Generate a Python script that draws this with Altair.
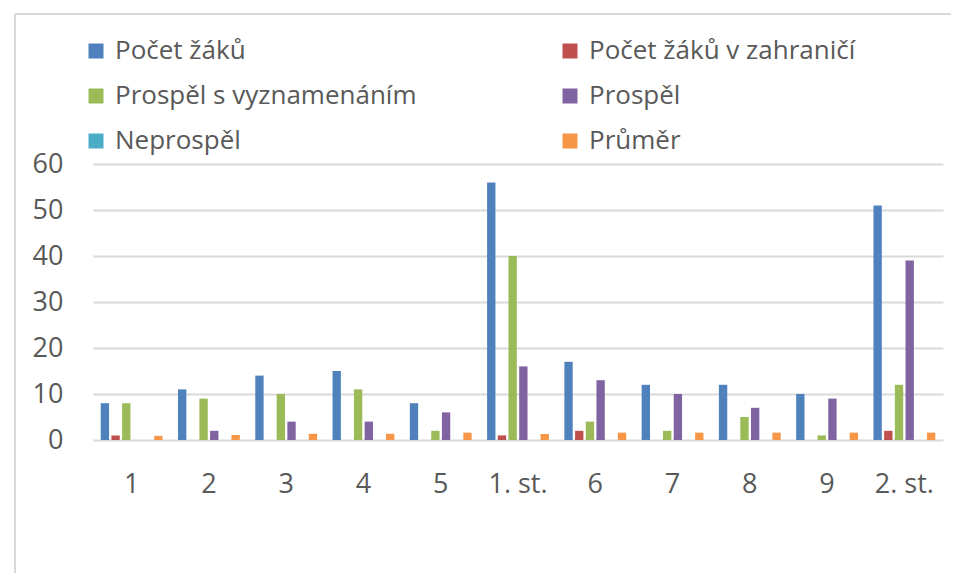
import altair as alt
import pandas as pd

categories = ["1", "2", "3", "4", "5", "1. st.", "6", "7", "8", "9", "2. st."]
series = ["Počet žáků", "Počet žáků v zahraničí", "Prospěl s vyznamenáním",
          "Prospěl", "Neprospěl", "Průměr"]
colors = ["#4f81bd", "#c0504d", "#9bbb59", "#8064a2", "#4bacc6", "#f79646"]

pocet_zaku = [8, 11, 14, 15, 8, 56, 17, 12, 12, 10, 51]
pocet_zahranici = [1, 0, 0, 0, 0, 1, 2, 0, 0, 0, 2]
prospel_vyznam = [8, 9, 10, 11, 2, 40, 4, 2, 5, 1, 12]
prospel = [0, 2, 4, 4, 6, 16, 13, 10, 7, 9, 39]
neprospel = [0, 0, 0, 0, 0, 0, 0, 0, 0, 0, 0]
prumer = [0.9, 1.1, 1.35, 1.35, 1.6, 1.3, 1.6, 1.6, 1.6, 1.6, 1.6]

values = [pocet_zaku, pocet_zahranici, prospel_vyznam, prospel, neprospel, prumer]
rows = []
for s, vals in zip(series, values):
    for c, v in zip(categories, vals):
        rows.append({"cat": c, "series": s, "value": v})
df = pd.DataFrame(rows)

FONT = "Open Sans"
TXT = "#595959"

bars = alt.Chart(df).mark_bar().encode(
    x=alt.X("cat:N", sort=categories, title=None,
            scale=alt.Scale(paddingInner=0.2, paddingOuter=0.1),
            axis=alt.Axis(labelAngle=0, domain=False, ticks=True, tickSize=22,
                          tickOpacity=0, grid=False,
                          labelFontSize=27, labelColor=TXT, labelFont=FONT,
                          labelPadding=9)),
    xOffset=alt.XOffset("series:N", sort=series,
                        scale=alt.Scale(paddingInner=0.22, paddingOuter=0)),
    y=alt.Y("value:Q", title=None,
            scale=alt.Scale(domain=[0, 60], nice=False),
            axis=alt.Axis(values=[0, 10, 20, 30, 40, 50, 60], domain=False,
                          ticks=True, tickSize=22, tickOpacity=0,
                          gridColor="#d9d9d9", gridWidth=2,
                          labelFontSize=27, labelColor=TXT, labelFont=FONT,
                          labelPadding=8)),
    color=alt.Color("series:N", sort=series,
                    scale=alt.Scale(domain=series, range=colors),
                    legend=alt.Legend(title=None, orient="none", legendX=-10, legendY=-126,
                                      direction="horizontal",
                                      columns=2, columnPadding=140, rowPadding=19,
                                      symbolType="square", symbolSize=225,
                                      symbolStrokeWidth=0, symbolOffset=0,
                                      labelFontSize=26, labelColor=TXT, labelFont=FONT,
                                      labelLimit=400, labelOffset=6)),
)

frame_v = alt.Chart(alt.Data(values=[{}])).mark_rule(
    color="#d9d9d9", strokeWidth=2
).encode(x=alt.value(-78), y=alt.value(-150), y2=alt.value(500))

frame_h = alt.Chart(alt.Data(values=[{}])).mark_rule(
    color="#d9d9d9", strokeWidth=2
).encode(x=alt.value(-78), x2=alt.value(858), y=alt.value(-150))

chart = alt.layer(frame_v, frame_h, bars).properties(
    width=850, height=276,
    autosize=alt.AutoSizeParams(type="none"),
    padding={"left": 85, "top": 156, "right": 8, "bottom": 133},
).configure_view(stroke=None)

chart.save("out.html", embed_options={"renderer": "svg", "actions": False})
